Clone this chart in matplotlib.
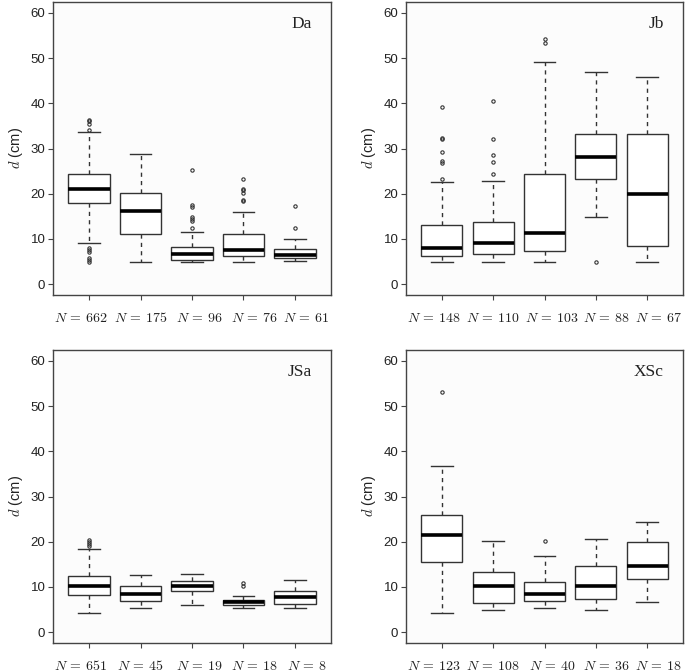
import matplotlib
matplotlib.use("Agg")
from matplotlib import pyplot as plt

plt.rcParams['mathtext.fontset'] = 'cm'
plt.rcParams['font.family'] = ['Liberation Sans', 'DejaVu Sans']

# panel names and sample sizes
panels = ["Da", "Jb", "JSa", "XSc"]
n_da = [662, 175, 96, 76, 61]
n_jb = [148, 110, 103, 88, 67]
n_jsa = [651, 45, 19, 18, 8]
n_xsc = [123, 108, 40, 36, 18]

# box statistics: lower whisker, q1, median, q3, upper whisker
lo_da = [9.2, 5.0, 5.0, 5.0, 5.1]
q1_da = [18.0, 11.0, 5.3, 6.2, 5.8]
med_da = [21.0, 16.2, 6.6, 7.5, 6.4]
q3_da = [24.4, 20.2, 8.2, 11.0, 7.8]
hi_da = [33.6, 28.7, 11.6, 15.9, 9.9]
out_da = [[36.4, 36.0, 35.5, 34.0, 8.0, 7.6, 7.2, 5.8, 5.3, 5.0],
          [],
          [25.3, 17.5, 17.1, 14.9, 14.4, 14.0, 12.4],
          [23.3, 21.1, 20.8, 20.2, 18.7, 18.4],
          [17.3, 12.4]]

lo_jb = [5.0, 5.0, 5.0, 14.8, 5.0]
q1_jb = [6.2, 6.6, 7.4, 23.2, 8.4]
med_jb = [7.9, 9.1, 11.3, 28.2, 19.9]
q3_jb = [13.0, 13.7, 24.4, 33.3, 33.3]
hi_jb = [22.5, 22.9, 49.1, 47.0, 45.8]
out_jb = [[39.2, 32.4, 32.0, 29.2, 27.3, 26.8, 23.3],
          [40.6, 32.0, 28.5, 27.0, 24.4],
          [54.3, 53.4],
          [5.0],
          []]

lo_jsa = [4.3, 5.3, 5.9, 5.3, 5.4]
q1_jsa = [8.3, 6.8, 9.1, 6.0, 6.3]
med_jsa = [10.1, 8.4, 10.3, 6.6, 7.7]
q3_jsa = [12.4, 10.1, 11.3, 7.0, 9.0]
hi_jsa = [18.4, 12.6, 12.9, 8.0, 11.5]
out_jsa = [[20.4, 20.0, 19.6, 19.1], [], [], [10.9, 10.3], []]

lo_xsc = [4.3, 4.8, 5.3, 5.0, 6.6]
q1_xsc = [15.6, 6.4, 6.8, 7.3, 11.8]
med_xsc = [21.5, 10.1, 8.4, 10.1, 14.6]
q3_xsc = [25.8, 13.2, 11.0, 14.6, 20.0]
hi_xsc = [36.7, 20.1, 16.8, 20.7, 24.3]
out_xsc = [[53.2], [], [20.1], [], []]

data = [
    (n_da, lo_da, q1_da, med_da, q3_da, hi_da, out_da),
    (n_jb, lo_jb, q1_jb, med_jb, q3_jb, hi_jb, out_jb),
    (n_jsa, lo_jsa, q1_jsa, med_jsa, q3_jsa, hi_jsa, out_jsa),
    (n_xsc, lo_xsc, q1_xsc, med_xsc, q3_xsc, hi_xsc, out_xsc),
]

W, H = 685, 672
fig = plt.figure(figsize=(W / 100, H / 100), dpi=100)

# axes boxes in pixels: left, top, right, bottom
boxes = [(53, 2, 331, 295), (406, 2, 683, 295),
         (53, 350, 331, 643), (406, 350, 683, 643)]
# the "N = .." labels sit a little spread out relative to the ticks
label_x = [0.84, 2.0, 3.15, 4.2, 5.22]

frame = "#444444"
for name, (n, lo, q1, med, q3, hi, out), (l, t, r, b) in zip(panels, data, boxes):
    ax = fig.add_axes([l / W, 1 - b / H, (r - l) / W, (b - t) / H])
    ax.set_facecolor("#fcfcfc")
    stats = []
    for i in range(len(n)):
        stats.append(dict(whislo=lo[i], q1=q1[i], med=med[i], q3=q3[i],
                          whishi=hi[i], fliers=out[i]))
    ax.bxp(stats, positions=range(1, 6), widths=0.8, capwidths=0.42,
           patch_artist=True,
           boxprops=dict(facecolor="white", edgecolor="#333333", linewidth=1.0),
           medianprops=dict(color="black", linewidth=2.6, solid_capstyle="butt"),
           whiskerprops=dict(color="#333333", linewidth=1.0, linestyle=(0, (3, 3))),
           capprops=dict(color="#333333", linewidth=1.0),
           flierprops=dict(marker="o", markersize=2.4, markerfacecolor="none",
                           markeredgecolor="#333333", markeredgewidth=0.8))
    ax.set_xlim(0.3, 5.7)
    ax.set_ylim(-2.4, 62.4)
    ax.set_yticks([0, 10, 20, 30, 40, 50, 60])
    ax.set_xticks(range(1, 6))
    ax.set_xticklabels([])
    for x, v in zip(label_x, n):
        ax.text(x, -27 / (b - t), r"$N$ = %d" % v, transform=ax.get_xaxis_transform(),
                ha="center", va="baseline", fontsize=10, family="cmr10",
                color="#222222")
    ax.tick_params(axis="x", length=3.5, color=frame, width=0.8)
    ax.tick_params(axis="y", length=3.5, pad=2, color=frame, width=0.8,
                   labelsize=9.5, labelcolor="#222222")
    for s in ax.spines.values():
        s.set_color(frame)
        s.set_linewidth(1.0)
    ax.set_ylabel(r"$d$ (cm)", fontsize=10.5, labelpad=4, color="#222222")
    ax.text(0.93, 0.925, name, transform=ax.transAxes, ha="right", va="center",
            fontsize=12.5, family="Liberation Serif", color="#222222")

plt.savefig("out.png", dpi=100)
